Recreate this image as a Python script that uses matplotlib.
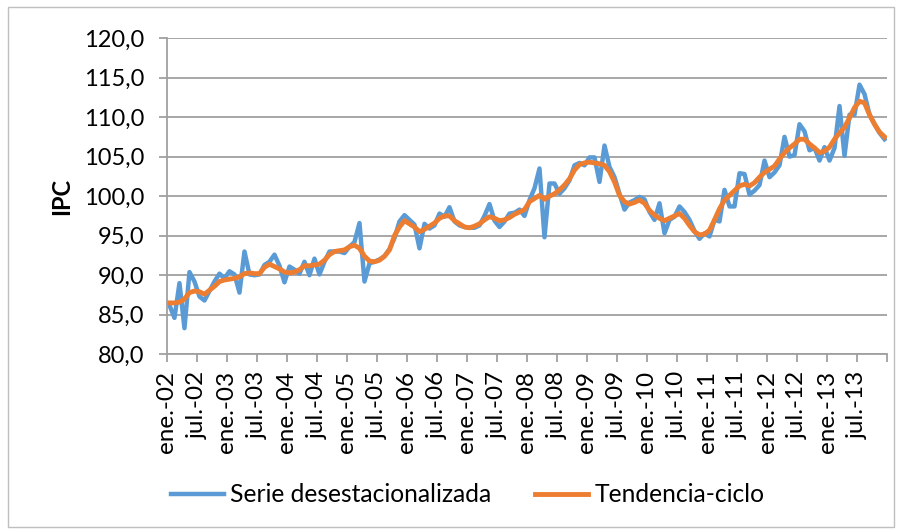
import matplotlib
matplotlib.use("Agg")
import matplotlib.pyplot as plt
from matplotlib.patches import Rectangle
from matplotlib.ticker import FuncFormatter, FixedLocator
import numpy as np

# IPC mensual, ene-2002 a dic-2013
serie_desest = [
    86.2, 84.6, 89.0, 83.3, 90.4, 89.2, 87.3, 86.8, 88.0, 89.2, 90.2, 89.6,
    90.5, 90.1, 87.8, 93.0, 90.1, 90.0, 90.1, 91.3, 91.7, 92.6, 91.2, 89.1,
    91.1, 90.7, 90.2, 91.7, 90.0, 92.1, 90.1, 91.7, 93.0, 93.0, 93.0, 92.8,
    93.6, 94.2, 96.6, 89.2, 91.5, 91.7, 92.0, 92.4, 93.3, 94.7, 96.8, 97.6,
    97.0, 96.4, 93.4, 96.5, 95.9, 96.3, 97.8, 97.4, 98.6, 96.8, 96.3, 96.1,
    96.0, 96.0, 96.3, 97.5, 99.0, 96.9, 96.1, 96.8, 97.8, 97.9, 98.3, 97.5,
    99.5, 101.0, 103.5, 94.8, 101.6, 101.6, 100.3, 101.0, 102.0, 103.9, 104.2, 103.9,
    104.9, 104.9, 101.8, 106.4, 103.7, 102.4, 100.3, 98.3, 99.2, 99.5, 99.9, 99.6,
    98.0, 97.0, 99.1, 95.3, 97.0, 97.4, 98.7, 98.0, 97.0, 95.6, 94.6, 95.3,
    94.9, 97.0, 96.8, 100.8, 98.7, 98.7, 102.9, 102.8, 100.2, 100.7, 101.4, 104.5,
    102.4, 103.0, 103.9, 107.5, 105.0, 105.2, 109.1, 108.2, 105.8, 106.1, 104.5, 106.2,
    104.5, 106.1, 111.4, 105.1, 110.3, 110.3, 114.1, 112.9, 110.3, 109.1, 108.0, 107.2,
]

tendencia_ciclo = [
    86.5, 86.5, 86.6, 87.0, 87.8, 88.0, 87.9, 87.6, 88.1, 88.6, 89.2, 89.4,
    89.5, 89.6, 89.8, 90.2, 90.3, 90.2, 90.2, 91.0, 91.4, 91.1, 90.8, 90.4,
    90.3, 90.4, 90.7, 91.2, 91.2, 91.3, 91.4, 91.9, 92.6, 93.0, 93.1, 93.2,
    93.6, 93.8, 93.4, 92.4, 91.8, 91.7, 91.9, 92.4, 93.2, 95.0, 96.1, 96.9,
    96.5, 96.1, 95.5, 95.8, 96.2, 96.6, 97.2, 97.5, 97.5, 96.9, 96.5, 96.1,
    96.0, 96.2, 96.5, 97.0, 97.4, 97.2, 96.9, 97.0, 97.3, 97.7, 98.0, 98.3,
    99.3, 99.7, 100.1, 99.6, 100.0, 100.3, 100.8, 101.4, 102.2, 103.3, 104.0, 104.2,
    104.3, 104.2, 104.1, 103.9, 103.1, 101.8, 100.1, 99.3, 99.0, 99.2, 99.5, 99.1,
    98.2, 97.6, 97.2, 96.9, 97.2, 97.5, 97.8, 97.2, 96.3, 95.5, 95.1, 95.2,
    95.7, 97.0, 98.4, 99.5, 100.1, 100.7, 101.3, 101.5, 101.3, 101.7, 102.4, 103.0,
    103.4, 103.8, 104.7, 105.5, 106.1, 106.6, 107.2, 107.2, 106.6, 106.1, 105.5, 105.7,
    106.2, 107.2, 108.0, 108.7, 109.9, 111.2, 112.0, 111.8, 110.3, 109.1, 108.1, 107.5,
]

etiquetas_x = [f"{m}.-{a:02d}" for a in range(2, 14) for m in ("ene", "jul")]
etiquetas_leyenda = ["Serie desestacionalizada", "Tendencia-ciclo"]

azul = "#5B9BD5"
naranja = "#ED7D31"
gris = "#A0A0A0"

plt.rcParams["font.family"] = ["Lato", "DejaVu Sans"]

fig = plt.figure(figsize=(9.03, 5.31), dpi=100)
ax = fig.add_axes([0.1849, 0.3328, 0.7974, 0.5956])

x = np.arange(len(serie_desest))
ax.plot(x, serie_desest, color=azul, lw=3.2, label=etiquetas_leyenda[0],
        solid_joinstyle="round")
ax.plot(x, tendencia_ciclo, color=naranja, lw=3.5, label=etiquetas_leyenda[1],
        solid_joinstyle="round")

ax.set_xlim(-0.5, len(x) - 0.5)
ax.set_ylim(80, 120)
ax.set_yticks(np.arange(80, 121, 5))
ax.yaxis.set_major_formatter(FuncFormatter(lambda v, p: f"{v:.1f}".replace(".", ",")))
# marcas en los limites de cada semestre, la ultima sin etiqueta
ax.xaxis.set_major_locator(FixedLocator(np.arange(-0.5, len(x), 6)))
ax.set_xticklabels(etiquetas_x + [""], rotation=90)

ax.grid(axis="y", color=gris, lw=1.3)
ax.set_axisbelow(True)
for s in ("top", "right"):
    ax.spines[s].set_visible(False)
for s in ("left", "bottom"):
    ax.spines[s].set_color(gris)
    ax.spines[s].set_linewidth(1.3)
ax.tick_params(axis="both", colors=gris, labelcolor="black", labelsize=17,
               length=6, width=1.3)
ax.tick_params(axis="x", labelsize=17.5, pad=6)
ax.tick_params(axis="y", pad=10)
ax.set_ylabel("IPC", fontsize=17, fontweight="bold", labelpad=8)

fig.legend(loc="center", bbox_to_anchor=(0.5177, 0.068), ncol=2, frameon=False,
           fontsize=17.7, handlelength=2.15, columnspacing=1.8, handletextpad=0.25)

fig.patches.append(Rectangle((8 / 903, 4 / 531), 886 / 903, 520 / 531,
                             transform=fig.transFigure, fill=False,
                             edgecolor="#BFBFBF", lw=1))

fig.savefig("out.png", dpi=100)
